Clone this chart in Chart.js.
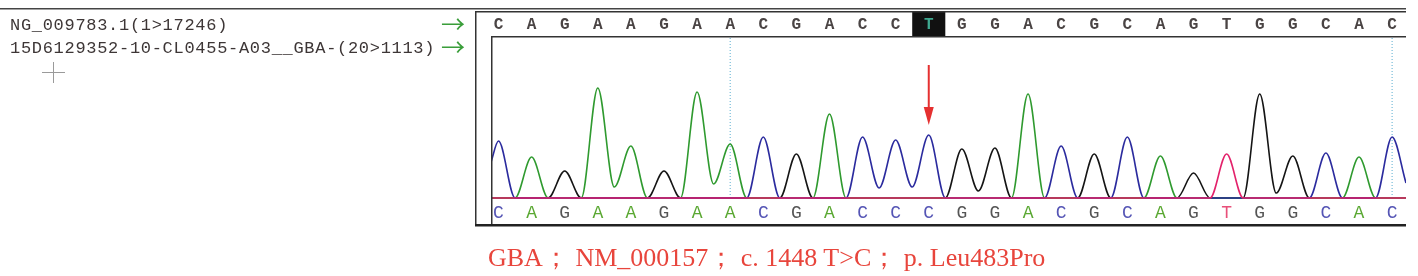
<!DOCTYPE html>
<html lang="en">
<head>
<meta charset="UTF-8">
<title>GBA c.1448 T>C chromatogram</title>
<script src="https://cdn.jsdelivr.net/npm/chart.js"></script>
<style>
  html, body { margin: 0; padding: 0; background: #fff; }
  body { width: 1418px; height: 276px; position: relative; overflow: hidden; }
  #chart { position: absolute; left: 0; top: 0; }
  .label { position: absolute; left: 10px; font-family: 'Liberation Mono', monospace; font-size: 17px;
           letter-spacing: 0.7px; color: #3d3636; white-space: pre; line-height: 20px; }
  .arrow { position: absolute; left: 441px; font-family: 'Noto Sans CJK SC', sans-serif; font-size: 24px;
           color: #3a9e3a; line-height: 24px; }
  .caption { position: absolute; left: 488px; top: 243px; font-family: 'Liberation Serif', serif;
             font-size: 26px; color: #e8453c; white-space: pre; line-height: 30px; }
  .cross { position: absolute; background: #9a9a9a; }
</style>
</head>
<body>
  <canvas id="chart" width="1418" height="276"></canvas>

  <div class="label" style="top:16px">NG_009783.1(1&gt;17246)</div>
  <div class="label" style="top:39px">15D6129352-10-CL0455-A03__GBA-(20&gt;1113)</div>
  <div class="arrow" style="top:11px">→</div>
  <div class="arrow" style="top:34px">→</div>
  <div class="cross" style="left:42px; top:72px; width:23px; height:1px"></div>
  <div class="cross" style="left:53px; top:62px; width:1px; height:21px"></div>

  <div class="caption">GBA； NM_000157； c. 1448 T&gt;C； p. Leu483Pro</div>

  <script>
    // reference (top row) and sample (bottom row) base calls
    const refSeq    = 'CAGAAGAACGACCTGGACGCAGTGGCAC'.split('');
    const sampleSeq = 'CAGAAGAACGACCCGGACGCAGTGGCAC'.split('');
    // peak height of each called base, above the baseline
    const peakHeights = [57, 41, 27, 110, 52, 27, 106, 54, 61, 44, 84, 61, 58, 63,
                         49, 50, 104, 52, 44, 61, 42, 25, 44, 104, 42, 45, 41, 61];
    // dip between two neighbouring peaks of the same dye (keyed by left base)
    const valleyAfter = {3: 11, 6: 14, 11: 10, 12: 11, 14: 7, 23: 5};
    // trace level where the window cuts it off
    const edgeStart = {A: 0, C: 36, G: 0, T: 0};
    const edgeEnd   = {A: 0, C: 15, G: 0, T: 0};
    const dividers = [7, 27];
    const mutationIndex = 13;
    const arrowSpan = [133, 73];

    const xMin = -0.227, xMax = 27.42;

    const dyeColor  = {A: '#2f9a2f', C: '#2b2b9e', G: '#151515', T: '#e3226b'};
    const callColor = {A: '#5aa832', C: '#5555b5', G: '#555555', T: '#e8507a'};

    function trace(dye) {
      const pts = [{x: xMin, y: edgeStart[dye]}];
      for (let i = 0; i < sampleSeq.length; i++) {
        if (sampleSeq[i] === dye) pts.push({x: i, y: peakHeights[i]});
        if (i < sampleSeq.length - 1) {
          const same = sampleSeq[i] === dye && sampleSeq[i + 1] === dye;
          pts.push({x: i + 0.5, y: same ? valleyAfter[i] : 0});
        }
      }
      pts.push({x: xMax, y: edgeEnd[dye]});
      return pts;
    }

    const datasets = ['T', 'C', 'A', 'G'].map(d => ({
      label: d,
      data: trace(d),
      borderColor: dyeColor[d],
      borderWidth: 1.6,
      pointRadius: 0,
      cubicInterpolationMode: 'monotone',
      fill: false
    }));
    dividers.forEach(i => datasets.push({
      label: 'divider',
      data: [{x: i, y: 0}, {x: i, y: 161}],
      borderColor: '#5aaed0',
      borderWidth: 1,
      borderDash: [1, 2],
      pointRadius: 0
    }));

    const frame = {
      id: 'frame',
      beforeDraw(chart) {
        const {ctx, chartArea: a, scales: {x}} = chart;
        const cx = x.getPixelForValue(mutationIndex);
        const w = x.getPixelForValue(1) - x.getPixelForValue(0);
        ctx.save();
        ctx.fillStyle = '#111';
        ctx.fillRect(cx - w / 2, 12, w, a.top - 12);
        ctx.restore();
      },
      afterDraw(chart) {
        const {ctx, scales: {x, y}} = chart;
        ctx.save();
        ctx.fillStyle = '#444';
        ctx.fillRect(0, 8, 1406, 1.5);
        ctx.fillStyle = '#333';
        ctx.fillRect(475, 11, 931, 1.5);
        ctx.fillRect(475, 11, 1.5, 215);
        ctx.fillRect(491, 37, 1.5, 189);
        ctx.fillRect(491, 36, 915, 1.5);
        ctx.fillStyle = '#222';
        ctx.fillRect(475, 224, 931, 2.5);

        // mutation arrow
        const ax = x.getPixelForValue(mutationIndex);
        const y0 = y.getPixelForValue(arrowSpan[0]);
        const y1 = y.getPixelForValue(arrowSpan[1]);
        ctx.strokeStyle = '#e53030';
        ctx.fillStyle = '#e53030';
        ctx.lineWidth = 2;
        ctx.beginPath();
        ctx.moveTo(ax, y0);
        ctx.lineTo(ax, y1 - 12);
        ctx.stroke();
        ctx.beginPath();
        ctx.moveTo(ax - 5, y1 - 18);
        ctx.lineTo(ax + 5, y1 - 18);
        ctx.lineTo(ax, y1);
        ctx.closePath();
        ctx.fill();
        ctx.restore();
      }
    };

    const seqTicks = s => { s.ticks = sampleSeq.map((_, i) => ({value: i})); };

    new Chart(document.getElementById('chart'), {
      type: 'line',
      data: {datasets},
      plugins: [frame],
      options: {
        responsive: false,
        animation: false,
        devicePixelRatio: 1,
        layout: {padding: {left: 491, right: 12, top: 12, bottom: 51}},
        plugins: {legend: {display: false}, tooltip: {enabled: false}},
        scales: {
          x: {
            type: 'linear', position: 'bottom', min: xMin, max: xMax,
            afterBuildTicks: seqTicks,
            afterFit: s => { s.height = 23; },
            grid: {display: false, drawTicks: false},
            border: {display: false},
            ticks: {
              autoSkip: false, maxRotation: 0, padding: 0,
              font: {family: 'Liberation Mono', size: 18},
              color: c => callColor[sampleSeq[c.tick.value]],
              callback: v => sampleSeq[v]
            }
          },
          xTop: {
            type: 'linear', position: 'top', min: xMin, max: xMax,
            afterBuildTicks: seqTicks,
            afterFit: s => { s.height = 25; },
            grid: {display: false, drawTicks: false},
            border: {display: false},
            ticks: {
              autoSkip: false, maxRotation: 0, padding: 2,
              font: {family: 'Liberation Mono', size: 16, weight: 'bold'},
              color: c => c.tick.value === mutationIndex ? '#3fa890' : '#4a4444',
              callback: v => refSeq[v]
            }
          },
          y: {display: false, min: -4, max: 161}
        }
      }
    });
  </script>
</body>
</html>
